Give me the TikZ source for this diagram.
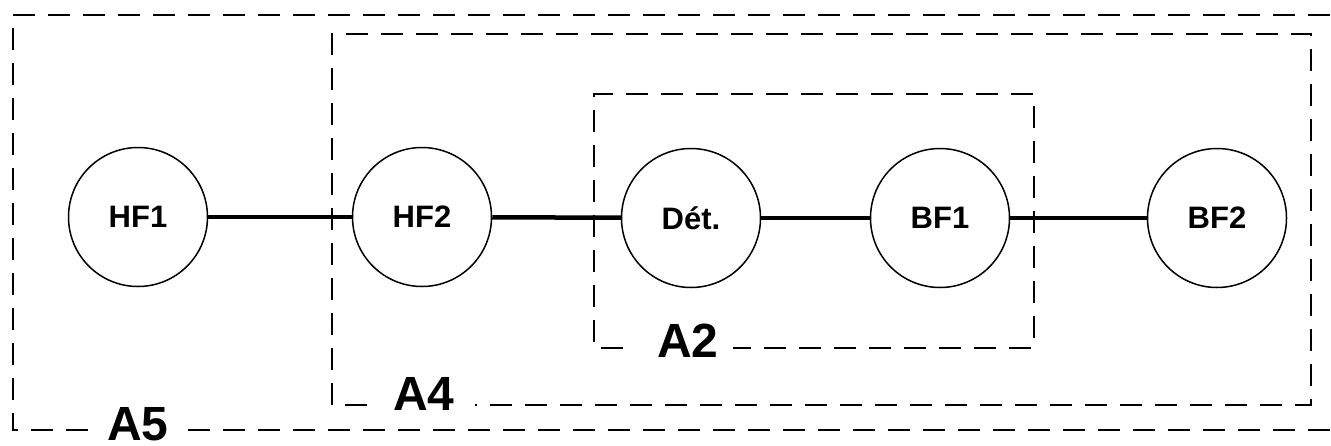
\documentclass[tikz,border=0pt]{standalone}
\usepackage{fontspec}
\setmainfont{Liberation Sans}
\begin{document}
\begin{tikzpicture}[x=1pt,y=-1pt,
  stage/.style={circle, draw, line width=1.5pt, minimum size=139pt, inner sep=0pt, font=\bfseries\fontsize{31}{31}\selectfont},
  conn/.style={line width=4.5pt},
  zone/.style={line width=2.5pt, dash pattern=on 22pt off 13pt},
  zlabel/.style={font=\bfseries\fontsize{48}{48}\selectfont, inner sep=0pt, anchor=base, text depth=0pt}]
\useasboundingbox (0,0) rectangle (1331,445);
\clip (0,0) rectangle (1331,445);
% zones
\draw[zone] (88,430) -- (13,430) -- (13,15) -- (1345,15);
\draw[zone] (188,430) -- (1345,430);
\draw[zone] (367,405) -- (332,405) -- (332,34) -- (1311,34) -- (1311,405) -- (475,405);
\draw[zone] (623,348) -- (594,348) -- (594,94) -- (1034,94) -- (1034,348) -- (733,348);
\node[zlabel] (A5) at (138,440) {A5};
\node[zlabel] (A4) at (424,410) {A4};
\node[zlabel] (A2) at (688,357) {A2};
% stages
\node[stage] (HF1) at (138,217) {HF1};
\node[stage] (HF2) at (422,217) {HF2};
\node[stage] (Det) at (691,218) {Dét.};
\node[stage] (BF1) at (940,218) {BF1};
\node[stage] (BF2) at (1217,218) {BF2};
\draw[conn] (HF1) -- (HF2);
\draw[conn] (HF2) -- (Det);
\draw[conn] (Det) -- (BF1);
\draw[conn] (BF1) -- (BF2);
\end{tikzpicture}
\end{document}
